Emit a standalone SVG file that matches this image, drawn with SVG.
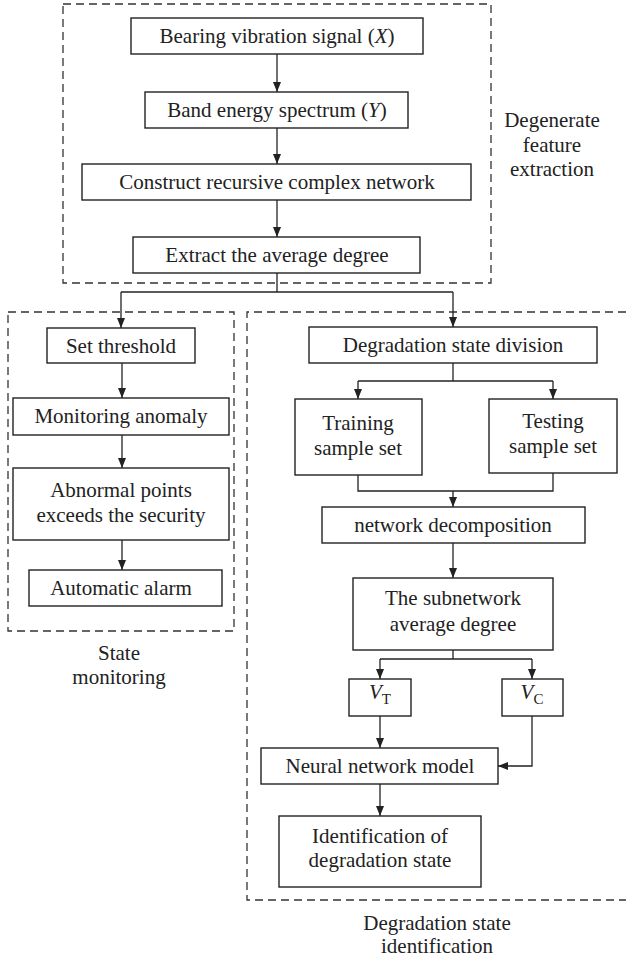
<svg xmlns="http://www.w3.org/2000/svg" width="626" height="962" viewBox="0 0 626 962">
<style>
.bx{fill:#fff;stroke:#222;stroke-width:1.4}
.dash{fill:none;stroke:#333;stroke-width:1.3;stroke-dasharray:8,5}
.t{font-family:"Liberation Serif",serif;font-size:21px;fill:#222;text-anchor:middle}
.ln{fill:none;stroke:#222;stroke-width:1.3}
</style>
<defs>
<marker id="ah" markerUnits="userSpaceOnUse" markerWidth="10" markerHeight="10" viewBox="0 0 10 10" refX="10" refY="5" orient="auto">
<path d="M0,1 L10,5 L0,9 Z" fill="#222"/>
</marker>
</defs>
<g id="groups">
<rect class="dash" x="63" y="4" width="428" height="279"/>
<rect class="dash" x="8" y="312" width="226" height="319"/>
<path class="dash" d="M626,312 H247 V900 H626"/>
<text class="t" x="552" y="127">Degenerate</text>
<text class="t" x="552" y="152">feature</text>
<text class="t" x="552" y="176">extraction</text>
<text class="t" x="119" y="660">State</text>
<text class="t" x="119" y="684">monitoring</text>
<text class="t" x="437" y="930">Degradation state</text>
<text class="t" x="437" y="953">identification</text>
</g>
<g id="connectors">
<path class="ln" d="M277,54 V92" marker-end="url(#ah)"/>
<path class="ln" d="M277,128 V164" marker-end="url(#ah)"/>
<path class="ln" d="M277,200 V237" marker-end="url(#ah)"/>
<path class="ln" d="M277,273 V292"/>
<path class="ln" d="M121,292 H453"/>
<path class="ln" d="M121,292 V328" marker-end="url(#ah)"/>
<path class="ln" d="M453,292 V327" marker-end="url(#ah)"/>
<path class="ln" d="M122,363 V398" marker-end="url(#ah)"/>
<path class="ln" d="M122,435 V468" marker-end="url(#ah)"/>
<path class="ln" d="M122,540 V570" marker-end="url(#ah)"/>
<path class="ln" d="M453,363 V381"/>
<path class="ln" d="M358,381 H553"/>
<path class="ln" d="M358,381 V399" marker-end="url(#ah)"/>
<path class="ln" d="M553,381 V399" marker-end="url(#ah)"/>
<path class="ln" d="M358,475 V491 H553 V473"/>
<path class="ln" d="M453,491 V507" marker-end="url(#ah)"/>
<path class="ln" d="M453,543 V578" marker-end="url(#ah)"/>
<path class="ln" d="M453,650 V659"/>
<path class="ln" d="M380,659 H532"/>
<path class="ln" d="M380,659 V679" marker-end="url(#ah)"/>
<path class="ln" d="M532,659 V679" marker-end="url(#ah)"/>
<path class="ln" d="M380,716 V748" marker-end="url(#ah)"/>
<path class="ln" d="M532,716 V766 H498" marker-end="url(#ah)"/>
<path class="ln" d="M380,784 V816" marker-end="url(#ah)"/>
</g>
<g id="n1"><rect class="bx" x="131" y="18" width="292" height="36"/><text class="t" x="277" y="43">Bearing vibration signal (<tspan font-style="italic">X</tspan>)</text></g>
<g id="n2"><rect class="bx" x="145" y="92" width="263" height="36"/><text class="t" x="277" y="117">Band energy spectrum (<tspan font-style="italic">Y</tspan>)</text></g>
<g id="n3"><rect class="bx" x="82" y="164" width="389" height="36"/><text class="t" x="277" y="189">Construct recursive complex network</text></g>
<g id="n4"><rect class="bx" x="133" y="237" width="287" height="36"/><text class="t" x="277" y="262">Extract the average degree</text></g>
<g id="n5"><rect class="bx" x="47" y="328" width="148" height="35"/><text class="t" x="121" y="353">Set threshold</text></g>
<g id="n6"><rect class="bx" x="13" y="398" width="216" height="37"/><text class="t" x="121" y="423">Monitoring anomaly</text></g>
<g id="n7"><rect class="bx" x="13" y="468" width="216" height="72"/><text class="t" x="121" y="497">Abnormal points</text><text class="t" x="121" y="522">exceeds the security</text></g>
<g id="n8"><rect class="bx" x="29" y="570" width="193" height="36"/><text class="t" x="121" y="595">Automatic alarm</text></g>
<g id="n9"><rect class="bx" x="309" y="327" width="288" height="36"/><text class="t" x="453" y="352">Degradation state division</text></g>
<g id="n10"><rect class="bx" x="295" y="399" width="127" height="76"/><text class="t" x="358" y="430">Training</text><text class="t" x="358" y="455">sample set</text></g>
<g id="n11"><rect class="bx" x="489" y="399" width="128" height="74"/><text class="t" x="553" y="428">Testing</text><text class="t" x="553" y="453">sample set</text></g>
<g id="n12"><rect class="bx" x="322" y="507" width="263" height="36"/><text class="t" x="453" y="532">network decomposition</text></g>
<g id="n13"><rect class="bx" x="353" y="578" width="200" height="72"/><text class="t" x="453" y="605">The subnetwork</text><text class="t" x="453" y="631">average degree</text></g>
<g id="n14"><rect class="bx" x="349" y="679" width="62" height="37"/><text class="t" x="380" y="699"><tspan font-style="italic">V</tspan><tspan font-size="15" dy="5">T</tspan></text></g>
<g id="n15"><rect class="bx" x="502" y="679" width="61" height="37"/><text class="t" x="532" y="699"><tspan font-style="italic">V</tspan><tspan font-size="15" dy="5">C</tspan></text></g>
<g id="n16"><rect class="bx" x="261" y="748" width="237" height="36"/><text class="t" x="380" y="773">Neural network model</text></g>
<g id="n17"><rect class="bx" x="279" y="816" width="202" height="71"/><text class="t" x="380" y="843">Identification of</text><text class="t" x="380" y="867">degradation state</text></g>
</svg>
